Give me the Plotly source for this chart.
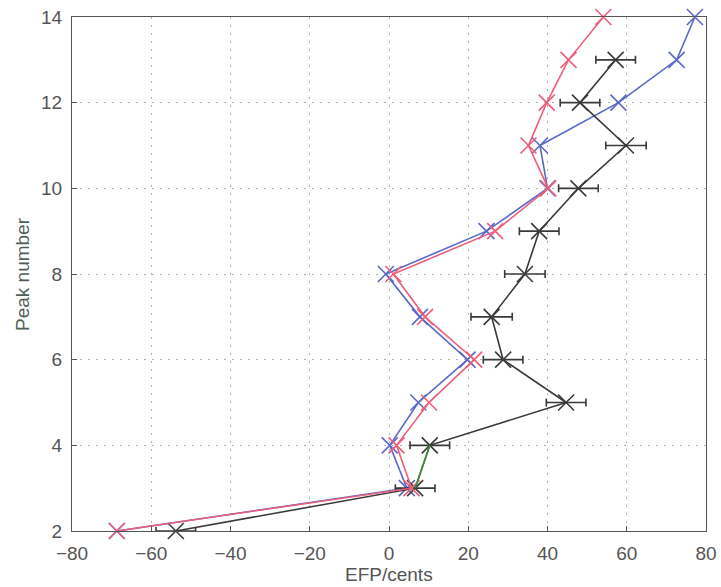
import plotly.graph_objects as go

peaks = [2, 3, 4, 5, 6, 7, 8, 9, 10, 11, 12, 13, 14]
blue_efp = [-68.7, 4.5, 0.2, 7.4, 19.8, 7.8, -0.8, 24.6, 40.0, 38.1, 57.9, 72.6, 77.2]
red_efp = [-68.7, 5.7, 1.9, 10.1, 21.5, 9.1, 1.1, 26.8, 40.2, 35.2, 39.8, 45.3, 54.1]
black_peaks = [2, 3, 4, 5, 6, 7, 8, 9, 10, 11, 12, 13]
black_efp = [-53.8, 6.6, 10.3, 44.7, 28.8, 25.9, 34.3, 37.9, 47.8, 59.8, 48.2, 57.2]
black_err = [5.0, 5.0, 5.0, 5.0, 5.0, 5.2, 5.1, 5.0, 5.0, 5.1, 5.0, 5.0]
green_peaks = [3, 4]
green_efp = [6.6, 10.3]

x_ticks = [-80, -60, -40, -20, 0, 20, 40, 60, 80]
y_ticks = [2, 4, 6, 8, 10, 12, 14]

BLUE = "#5a68c8"
RED = "#ec5f7a"
BLACK = "#3a3a3a"
GREEN = "#3f8f3f"
FONT = "Liberation Sans, Arial, sans-serif"

fig = go.Figure()

fig.add_trace(go.Scatter(
    x=blue_efp, y=peaks, mode="lines+markers", cliponaxis=False,
    line=dict(color=BLUE, width=1.6),
    marker=dict(symbol="x-thin", size=16, line=dict(color=BLUE, width=1.6)),
    showlegend=False))

fig.add_trace(go.Scatter(
    x=black_efp, y=black_peaks, mode="lines+markers", cliponaxis=False,
    line=dict(color=BLACK, width=1.6),
    marker=dict(symbol="x-thin", size=16, color=BLACK, line=dict(color=BLACK, width=1.6)),
    error_x=dict(type="data", array=black_err, visible=True, color=BLACK, thickness=1.6, width=4),
    showlegend=False))

fig.add_trace(go.Scatter(
    x=red_efp, y=peaks, mode="lines+markers", cliponaxis=False,
    line=dict(color=RED, width=1.6),
    marker=dict(symbol="x-thin", size=16, line=dict(color=RED, width=1.6)),
    showlegend=False))

fig.add_trace(go.Scatter(
    x=green_efp, y=green_peaks, mode="lines", cliponaxis=False,
    line=dict(color=GREEN, width=1.6),
    showlegend=False))

axis_common = dict(
    showline=True, linecolor="#555", linewidth=1, mirror=True,
    ticks="inside", ticklen=5, tickcolor="#555",
    showgrid=True, gridcolor="#b0b0b0", griddash="2px,6px", gridwidth=1,
    zeroline=False, automargin=False,
    tickfont=dict(family=FONT, size=19, color="#555"),
)

fig.update_xaxes(range=[-80, 80], tickvals=x_ticks, ticklabelstandoff=5, **axis_common)
fig.update_yaxes(range=[2, 14], tickvals=y_ticks, ticklabelstandoff=5, **axis_common)

plot_w = 721 - 72 - 15
plot_h = 587 - 17 - 56

fig.update_layout(
    width=721, height=587,
    margin=dict(l=72, r=15, t=17, b=56, autoexpand=False),
    paper_bgcolor="white", plot_bgcolor="white",
    annotations=[
        dict(text="EFP/cents", x=0.5, xref="paper", y=(531 - 574) / plot_h, yref="paper",
             yanchor="middle", showarrow=False,
             font=dict(family=FONT, size=19, color="#555")),
        dict(text="Peak number", x=(22 - 72) / plot_w, xref="paper", xanchor="center",
             y=0.5, yref="paper", textangle=-90, showarrow=False,
             font=dict(family=FONT, size=19, color="#4f5f55")),
    ],
)

fig.write_html("out.html")
